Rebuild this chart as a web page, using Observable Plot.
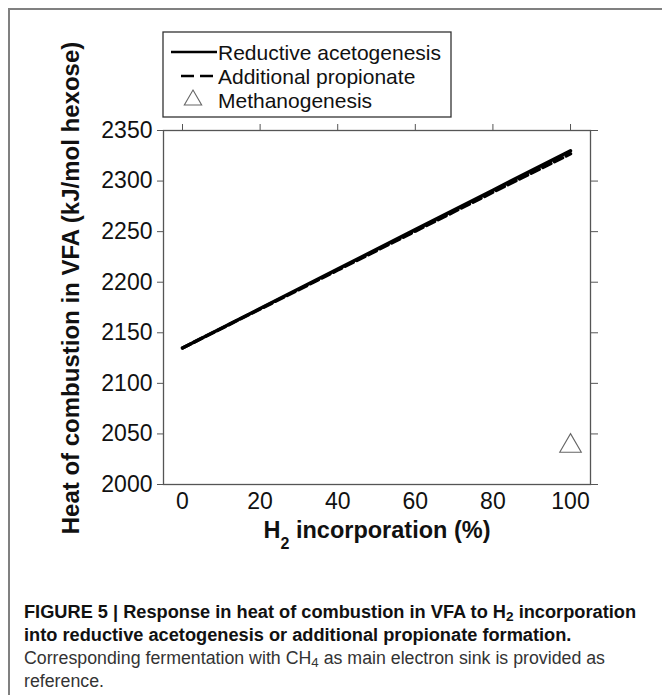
<!DOCTYPE html>
<html>
<head>
<meta charset="utf-8">
<script src="https://cdn.jsdelivr.net/npm/d3@7"></script>
<script src="https://cdn.jsdelivr.net/npm/@observablehq/plot@0.6"></script>
<style>
  html, body { margin: 0; padding: 0; background: #fff; overflow: hidden; }
  body { width: 662px; height: 695px; position: relative; }
  #frame { position: absolute; left: 8px; top: 8px; width: 700px; height: 720px;
           border-left: 2px solid #808080; border-top: 2px solid #808080; }
  #chart { position: absolute; left: 0; top: 0; }
  #caption { position: absolute; left: 24px; top: 601px; width: 800px;
             font-family: "Liberation Sans", Arial, sans-serif;
             font-size: 18px; line-height: 23px; color: #111; }
  #caption div { white-space: nowrap; display: block; width: max-content; transform-origin: 0 50%; }
  #caption .b { font-weight: bold; }
  #caption .r { color: #333; }
  #caption sub { font-size: 0.75em; line-height: 0; vertical-align: -0.25em; }
</style>
</head>
<body>
<div id="frame"></div>
<div id="chart"></div>
<div id="caption">
  <div class="b" id="c1">FIGURE 5 | Response in heat of combustion in VFA to H<sub>2</sub> incorporation</div>
  <div class="b" id="c2">into reductive acetogenesis or additional propionate formation.</div>
  <div class="r" id="c3">Corresponding fermentation with CH<sub>4</sub> as main electron sink is provided as</div>
  <div class="r" id="c4">reference.</div>
</div>
<script>
// ---- data ----
const h2Incorporation = [0, 20, 40, 60, 80, 100];
const reductiveAcetogenesis = [2135, 2174, 2213, 2252, 2291, 2330];
const additionalPropionate = [2135, 2173.5, 2212, 2250.5, 2289, 2327];
const methanogenesisX = [100];
const methanogenesisY = [2038];
const xTicks = [0, 20, 40, 60, 80, 100];
const yTicks = [2000, 2050, 2100, 2150, 2200, 2250, 2300, 2350];
const seriesNames = ["Reductive acetogenesis", "Additional propionate", "Methanogenesis"];

const redData = h2Incorporation.map((x, i) => ({x, y: reductiveAcetogenesis[i]}));
const propData = h2Incorporation.map((x, i) => ({x, y: additionalPropionate[i]}));
const methData = methanogenesisX.map((x, i) => ({x, y: methanogenesisY[i]}));

const FONT = "'Liberation Sans', Arial, Helvetica, sans-serif";
const axisGray = "#555";
const plain = d => String(d);

const chart = Plot.plot({
  width: 662,
  height: 570,
  marginLeft: 163,
  marginRight: 72,
  marginTop: 130,
  marginBottom: 86,
  x: {domain: [-4.9, 105.15]},
  y: {domain: [2000, 2350]},
  style: {fontFamily: FONT, background: "transparent", color: "#111"},
  marks: [
    Plot.frame({stroke: axisGray, strokeWidth: 1.3}),
    Plot.axisY(yTicks, {anchor: "left", tickSize: 6, tickPadding: 5, stroke: axisGray, fill: "#111", fontSize: 23, tickFormat: plain, label: null}),
    Plot.axisY(yTicks, {anchor: "right", tickSize: 7, stroke: axisGray, tickFormat: () => "", label: null}),
    Plot.axisX(xTicks, {anchor: "top", tickSize: 7, stroke: axisGray, tickFormat: () => "", label: null}),
    Plot.axisX(xTicks, {anchor: "bottom", tickSize: 0, tickPadding: 8, fill: "#111", fontSize: 23, tickFormat: plain, label: null}),
    Plot.line(propData, {x: "x", y: "y", stroke: "#000", strokeWidth: 3.4, strokeDasharray: "9,4"}),
    Plot.line(redData, {x: "x", y: "y", stroke: "#000", strokeWidth: 3.4}),
    Plot.dot(methData, {x: "x", y: "y", symbol: "triangle", r: 8, fill: "white", stroke: "#666", strokeWidth: 1.1})
  ]
});
document.getElementById("chart").appendChild(chart);

const svg = d3.select(chart);

// y axis label
svg.append("text")
  .attr("transform", "translate(79,288) rotate(-90)")
  .attr("text-anchor", "middle")
  .attr("font-family", FONT)
  .attr("font-weight", "bold")
  .attr("font-size", 24)
  .attr("fill", "#111")
  .text("Heat of combustion in VFA (kJ/mol hexose)");

// x axis label with subscript
const xl = svg.append("text")
  .attr("x", 377).attr("y", 538)
  .attr("text-anchor", "middle")
  .attr("font-family", FONT)
  .attr("font-weight", "bold")
  .attr("font-size", 23.5)
  .attr("fill", "#111");
xl.append("tspan").text("H");
xl.append("tspan").attr("font-size", 16).attr("dy", 11).text("2");
xl.append("tspan").attr("dy", -11).text(" incorporation (%)");

// legend
const lg = svg.append("g").attr("font-family", FONT).attr("font-size", 21).attr("fill", "#111")
  .attr("text-anchor", "start");
lg.append("rect").attr("x", 163).attr("y", 32).attr("width", 288).attr("height", 85)
  .attr("fill", "white").attr("stroke", "#333").attr("stroke-width", 1.3);
lg.append("line").attr("x1", 171).attr("x2", 217).attr("y1", 52).attr("y2", 52)
  .attr("stroke", "#000").attr("stroke-width", 2.6);
lg.append("line").attr("x1", 181).attr("x2", 217).attr("y1", 76).attr("y2", 76)
  .attr("stroke", "#000").attr("stroke-width", 2.6).attr("stroke-dasharray", "13,6");
lg.append("path").attr("d", d3.symbol(d3.symbolTriangle, 130)())
  .attr("transform", "translate(193,100)")
  .attr("fill", "white").attr("stroke", "#666").attr("stroke-width", 1.1);
[52, 76, 100].forEach((cy, i) => {
  lg.append("text").attr("x", 218).attr("y", cy + 7.5).attr("text-anchor", "start").text(seriesNames[i]);
});

// condense caption lines to the reference widths
const w1 = document.getElementById("c1").getBoundingClientRect().width;
const w3 = document.getElementById("c3").getBoundingClientRect().width;
const kb = 612 / w1, kr = 581 / w3;
["c1", "c2"].forEach(id => document.getElementById(id).style.transform = `scaleX(${kb})`);
["c3", "c4"].forEach(id => document.getElementById(id).style.transform = `scaleX(${kr})`);
</script>
</body>
</html>
